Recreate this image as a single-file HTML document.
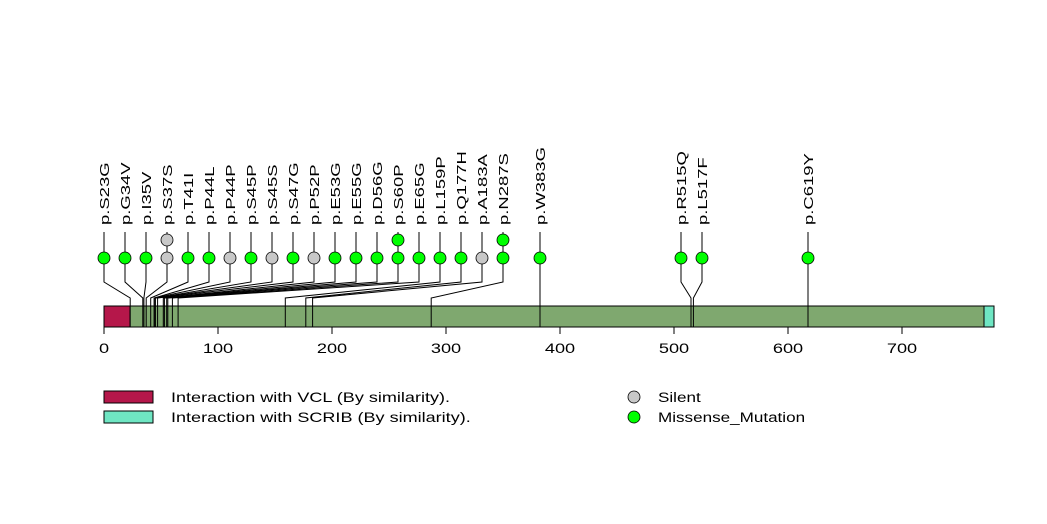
<!DOCTYPE html>
<html><head><meta charset="utf-8"><style>
html,body{margin:0;padding:0;background:#fff;}
svg{display:block;font-family:"Liberation Sans",sans-serif;}
</style></head><body>
<svg width="1047" height="524" viewBox="0 0 1047 524" xmlns="http://www.w3.org/2000/svg">
<rect x="0" y="0" width="1047" height="524" fill="#fff"/>
<rect x="104" y="306" width="890" height="21" fill="#7fa86f" stroke="#000" stroke-width="1"/>
<rect x="104" y="306" width="26" height="21" fill="#b5174a" stroke="#000" stroke-width="1"/>
<rect x="984" y="306" width="10" height="21" fill="#6fe6c3" stroke="#000" stroke-width="1"/>
<g fill="none" stroke="#000" stroke-width="1">
<path d="M104 258V282L130.2 298V327"/>
<path d="M125 258V282L142.8 298V327"/>
<path d="M146 258V282L143.9 298V327"/>
<path d="M167 240V282L146.2 298V327"/>
<path d="M188 258V282L150.7 298V327"/>
<path d="M209 258V282L154.2 298V327"/>
<path d="M230 258V282L154.2 298V327"/>
<path d="M251 258V282L155.3 298V327"/>
<path d="M272 258V282L155.3 298V327"/>
<path d="M293 258V282L157.6 298V327"/>
<path d="M314 258V282L163.3 298V327"/>
<path d="M335 258V282L164.4 298V327"/>
<path d="M356 258V282L166.7 298V327"/>
<path d="M377 258V282L167.8 298V327"/>
<path d="M398 240V282L172.4 298V327"/>
<path d="M419 258V282L178.1 298V327"/>
<path d="M440 258V282L285.3 298V327"/>
<path d="M461 258V282L305.8 298V327"/>
<path d="M482 258V282L312.6 298V327"/>
<path d="M503 240V282L431.2 298V327"/>
<path d="M540 258V327"/>
<path d="M681 258V282L691 298V327"/>
<path d="M702 258V282L693.4 298V327"/>
<path d="M808 258V327"/>
<path d="M104 232V258M125 232V258M146 232V258M167 232V258M188 232V258M209 232V258M230 232V258M251 232V258M272 232V258M293 232V258M314 232V258M335 232V258M356 232V258M377 232V258M398 232V258M419 232V258M440 232V258M461 232V258M482 232V258M503 232V258M540 232V258M681 232V258M702 232V258M808 232V258"/>
</g>
<g stroke="#000" stroke-width="0.8">
<circle cx="104" cy="258" r="6" fill="#00ff00"/>
<circle cx="125" cy="258" r="6" fill="#00ff00"/>
<circle cx="146" cy="258" r="6" fill="#00ff00"/>
<circle cx="167" cy="258" r="6" fill="#c8c8c8"/>
<circle cx="167" cy="240" r="6" fill="#c8c8c8"/>
<circle cx="188" cy="258" r="6" fill="#00ff00"/>
<circle cx="209" cy="258" r="6" fill="#00ff00"/>
<circle cx="230" cy="258" r="6" fill="#c8c8c8"/>
<circle cx="251" cy="258" r="6" fill="#00ff00"/>
<circle cx="272" cy="258" r="6" fill="#c8c8c8"/>
<circle cx="293" cy="258" r="6" fill="#00ff00"/>
<circle cx="314" cy="258" r="6" fill="#c8c8c8"/>
<circle cx="335" cy="258" r="6" fill="#00ff00"/>
<circle cx="356" cy="258" r="6" fill="#00ff00"/>
<circle cx="377" cy="258" r="6" fill="#00ff00"/>
<circle cx="398" cy="258" r="6" fill="#00ff00"/>
<circle cx="398" cy="240" r="6" fill="#00ff00"/>
<circle cx="419" cy="258" r="6" fill="#00ff00"/>
<circle cx="440" cy="258" r="6" fill="#00ff00"/>
<circle cx="461" cy="258" r="6" fill="#00ff00"/>
<circle cx="482" cy="258" r="6" fill="#c8c8c8"/>
<circle cx="503" cy="258" r="6" fill="#00ff00"/>
<circle cx="503" cy="240" r="6" fill="#00ff00"/>
<circle cx="540" cy="258" r="6" fill="#00ff00"/>
<circle cx="681" cy="258" r="6" fill="#00ff00"/>
<circle cx="702" cy="258" r="6" fill="#00ff00"/>
<circle cx="808" cy="258" r="6" fill="#00ff00"/>
</g>
<g font-size="13" fill="#000">
<text transform="translate(109,225) rotate(-90) scale(1.42,1)">p.S23G</text>
<text transform="translate(130,225) rotate(-90) scale(1.42,1)">p.G34V</text>
<text transform="translate(151,225) rotate(-90) scale(1.42,1)">p.I35V</text>
<text transform="translate(172,225) rotate(-90) scale(1.42,1)">p.S37S</text>
<text transform="translate(193,225) rotate(-90) scale(1.42,1)">p.T41I</text>
<text transform="translate(214,225) rotate(-90) scale(1.42,1)">p.P44L</text>
<text transform="translate(235,225) rotate(-90) scale(1.42,1)">p.P44P</text>
<text transform="translate(256,225) rotate(-90) scale(1.42,1)">p.S45P</text>
<text transform="translate(277,225) rotate(-90) scale(1.42,1)">p.S45S</text>
<text transform="translate(298,225) rotate(-90) scale(1.42,1)">p.S47G</text>
<text transform="translate(319,225) rotate(-90) scale(1.42,1)">p.P52P</text>
<text transform="translate(340,225) rotate(-90) scale(1.42,1)">p.E53G</text>
<text transform="translate(361,225) rotate(-90) scale(1.42,1)">p.E55G</text>
<text transform="translate(382,225) rotate(-90) scale(1.42,1)">p.D56G</text>
<text transform="translate(403,225) rotate(-90) scale(1.42,1)">p.S60P</text>
<text transform="translate(424,225) rotate(-90) scale(1.42,1)">p.E65G</text>
<text transform="translate(445,225) rotate(-90) scale(1.42,1)">p.L159P</text>
<text transform="translate(466,225) rotate(-90) scale(1.42,1)">p.Q177H</text>
<text transform="translate(487,225) rotate(-90) scale(1.42,1)">p.A183A</text>
<text transform="translate(508,225) rotate(-90) scale(1.42,1)">p.N287S</text>
<text transform="translate(545,225) rotate(-90) scale(1.42,1)">p.W383G</text>
<text transform="translate(686,225) rotate(-90) scale(1.42,1)">p.R515Q</text>
<text transform="translate(707,225) rotate(-90) scale(1.42,1)">p.L517F</text>
<text transform="translate(813,225) rotate(-90) scale(1.42,1)">p.C619Y</text>
</g>
<g stroke="#000" stroke-width="1">
<path d="M104 327V334M218 327V334M332 327V334M446 327V334M560 327V334M674 327V334M788 327V334M902 327V334"/>
</g>
<g font-size="14" text-anchor="middle" fill="#000">
<text transform="translate(104,353) scale(1.3,1)">0</text>
<text transform="translate(218,353) scale(1.3,1)">100</text>
<text transform="translate(332,353) scale(1.3,1)">200</text>
<text transform="translate(446,353) scale(1.3,1)">300</text>
<text transform="translate(560,353) scale(1.3,1)">400</text>
<text transform="translate(674,353) scale(1.3,1)">500</text>
<text transform="translate(788,353) scale(1.3,1)">600</text>
<text transform="translate(902,353) scale(1.3,1)">700</text>
</g>
<rect x="104" y="391" width="49" height="12" fill="#b5174a" stroke="#000"/>
<rect x="104" y="411" width="49" height="12" fill="#6fe6c3" stroke="#000"/>
<g font-size="14" fill="#000">
<text transform="translate(171,402) scale(1.29,1)">Interaction with VCL (By similarity).</text>
<text transform="translate(171,422) scale(1.29,1)">Interaction with SCRIB (By similarity).</text>
<text transform="translate(658,402) scale(1.22,1)">Silent</text>
<text transform="translate(658,422) scale(1.22,1)">Missense_Mutation</text>
</g>
<circle cx="634" cy="397" r="6" fill="#c8c8c8" stroke="#000" stroke-width="0.8"/>
<circle cx="634" cy="417" r="6" fill="#00ff00" stroke="#000" stroke-width="0.8"/>
</svg>
</body></html>
